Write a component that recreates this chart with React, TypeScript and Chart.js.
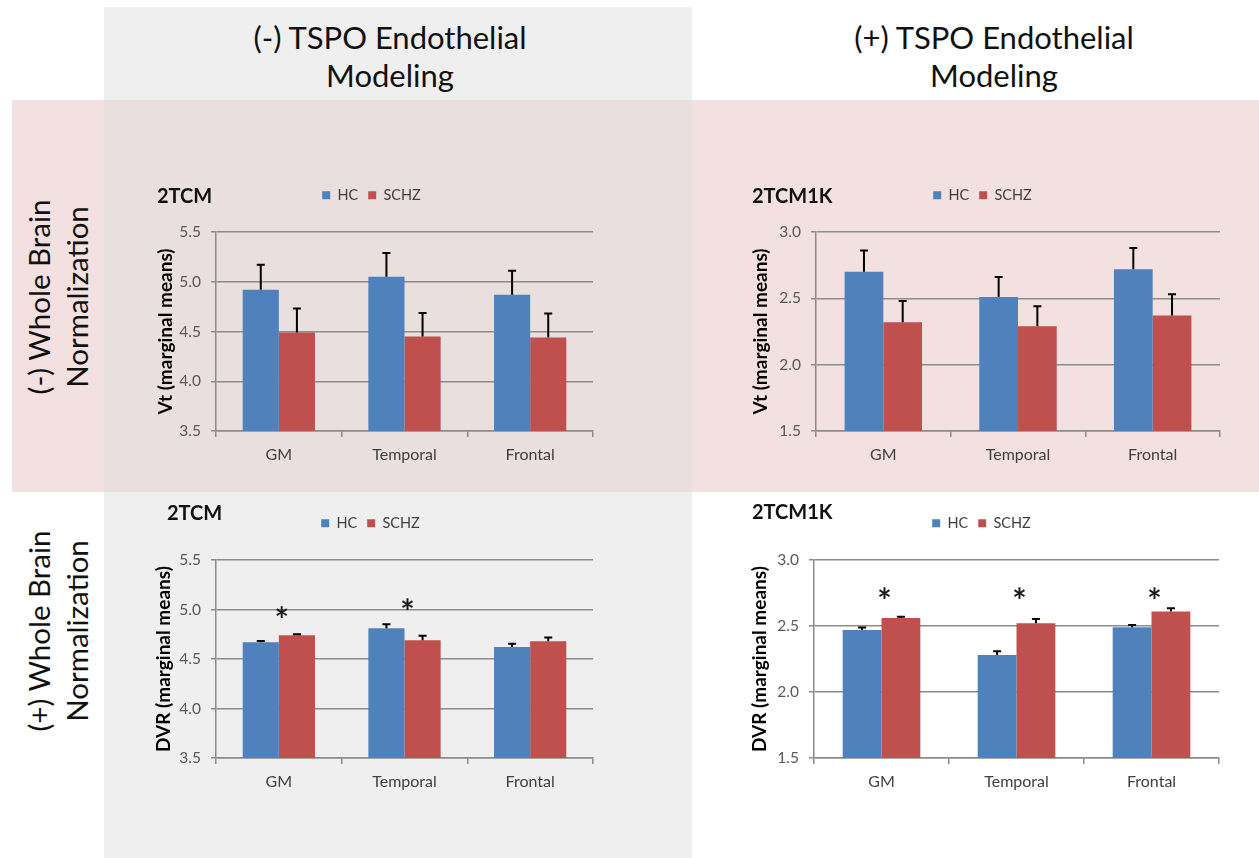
import React, { useEffect, useRef } from 'react';
import { Chart, registerables } from 'chart.js';

Chart.register(...registerables);

const FONT = 'Lato, "Open Sans", "DejaVu Sans", sans-serif';
Chart.defaults.font.family = FONT;

// ---------- data ----------
const categories = ['GM', 'Temporal', 'Frontal'];
const seriesNames = ['HC', 'SCHZ'];

// (-) TSPO endothelial, (-) whole brain normalization — 2TCM, Vt
const vt2tcmHC = [4.92, 5.05, 4.87];
const vt2tcmHCErr = [0.25, 0.24, 0.24];
const vt2tcmSCHZ = [4.49, 4.45, 4.44];
const vt2tcmSCHZErr = [0.24, 0.235, 0.24];
const vt2tcmRange = [3.5, 5.5];

// (+) TSPO endothelial, (-) whole brain normalization — 2TCM1K, Vt
const vt2tcm1kHC = [2.7, 2.51, 2.72];
const vt2tcm1kHCErr = [0.16, 0.15, 0.16];
const vt2tcm1kSCHZ = [2.32, 2.29, 2.37];
const vt2tcm1kSCHZErr = [0.16, 0.15, 0.16];
const vt2tcm1kRange = [1.5, 3.0];

// (-) TSPO endothelial, (+) whole brain normalization — 2TCM, DVR
const dvr2tcmHC = [4.67, 4.81, 4.62];
const dvr2tcmHCErr = [0.013, 0.04, 0.034];
const dvr2tcmSCHZ = [4.74, 4.69, 4.68];
const dvr2tcmSCHZErr = [0.01, 0.044, 0.037];
const dvr2tcmStars = [4.97, 5.06, null];
const dvr2tcmRange = [3.5, 5.5];

// (+) TSPO endothelial, (+) whole brain normalization — 2TCM1K, DVR
const dvr2tcm1kHC = [2.47, 2.28, 2.49];
const dvr2tcm1kHCErr = [0.018, 0.028, 0.018];
const dvr2tcm1kSCHZ = [2.56, 2.52, 2.61];
const dvr2tcm1kSCHZErr = [0.01, 0.033, 0.025];
const dvr2tcm1kStars = [2.75, 2.75, 2.75];
const dvr2tcm1kRange = [1.5, 3.0];

const tickStep = 0.5;

// ---------- styles ----------
const HC_COLOR = '#4f81bd';
const SCHZ_COLOR = '#c0504d';
const GRID = '#8c8c8c';

const errorBarPlugin = {
  id: 'errorBars',
  afterDatasetsDraw(chart: any) {
    const ctx = chart.ctx;
    const y = chart.scales.y;
    chart.data.datasets.forEach((ds: any, i: number) => {
      const meta = chart.getDatasetMeta(i);
      meta.data.forEach((bar: any, j: number) => {
        const v = ds.data[j];
        const e = ds.errors ? ds.errors[j] : 0;
        const top = y.getPixelForValue(v + e);
        ctx.save();
        ctx.strokeStyle = '#000';
        ctx.lineWidth = 2;
        ctx.beginPath();
        ctx.moveTo(bar.x, bar.y);
        ctx.lineTo(bar.x, top);
        ctx.moveTo(bar.x - 4, top);
        ctx.lineTo(bar.x + 4, top);
        ctx.stroke();
        ctx.restore();
      });
    });
  },
};

const starPlugin = {
  id: 'stars',
  afterDatasetsDraw(chart: any, _args: any, opts: any) {
    const vals = opts && opts.values;
    if (!vals) return;
    const ctx = chart.ctx;
    const x = chart.scales.x;
    const y = chart.scales.y;
    ctx.save();
    ctx.fillStyle = '#1a1a1a';
    ctx.font = `bold 34px ${FONT}`;
    ctx.textAlign = 'center';
    ctx.textBaseline = 'alphabetic';
    const m = ctx.measureText('*');
    const off = (m.actualBoundingBoxAscent - m.actualBoundingBoxDescent) / 2;
    vals.forEach((v: number | null, i: number) => {
      if (v === null || v === undefined) return;
      ctx.fillText('*', x.getPixelForValue(i) + 3, y.getPixelForValue(v) + off);
    });
    ctx.restore();
  },
};

type Rect = { left: number; top: number; width: number; height: number };
type Plot = { left: number; top: number; right: number; bottom: number };

function Panel(props: {
  canvas: Rect;
  plot: Plot;
  title: string;
  titlePos: { left: number; cy: number };
  yTitle: string;
  range: number[];
  hc: number[];
  hcErr: number[];
  schz: number[];
  schzErr: number[];
  stars?: (number | null)[];
}) {
  const ref = useRef<HTMLCanvasElement>(null);
  const { canvas, plot } = props;
  useEffect(() => {
    if (!ref.current) return;
    const legendH = plot.top - canvas.top;
    const yW = plot.left - canvas.left;
    const xH = canvas.top + canvas.height - plot.bottom;
    const padRight = canvas.left + canvas.width - plot.right;
    const fixLegend = {
      id: 'fixLegend',
      beforeLayout(chart: any) {
        const lg = chart.legend;
        if (lg && !lg.__patched) {
          const orig = lg.fit.bind(lg);
          lg.fit = function () {
            orig();
            this.height = legendH;
          };
          lg.__patched = true;
        }
      },
    };
    const chart = new Chart(ref.current, {
      type: 'bar',
      data: {
        labels: categories,
        datasets: [
          {
            label: seriesNames[0],
            data: props.hc,
            errors: props.hcErr,
            backgroundColor: HC_COLOR,
            borderWidth: 0,
            barPercentage: 1,
            categoryPercentage: 0.575,
          } as any,
          {
            label: seriesNames[1],
            data: props.schz,
            errors: props.schzErr,
            backgroundColor: SCHZ_COLOR,
            borderWidth: 0,
            barPercentage: 1,
            categoryPercentage: 0.575,
          } as any,
        ],
      },
      options: {
        animation: false,
        responsive: false,
        maintainAspectRatio: false,
        events: [],
        layout: { padding: { left: 0, right: padRight, top: 0, bottom: 0 } },
        plugins: {
          legend: {
            display: true,
            position: 'top',
            labels: {
              boxWidth: 8,
              boxHeight: 8,
              padding: 10,
              color: '#404040',
              font: { size: 14.5 },
            },
          },
          tooltip: { enabled: false },
          stars: { values: props.stars },
        } as any,
        scales: {
          x: {
            grid: {
              offset: true,
              drawOnChartArea: false,
              drawTicks: true,
              tickLength: 6,
              color: GRID,
              lineWidth: 1.5,
            },
            border: { color: GRID, width: 1.5 },
            ticks: { color: '#404040', font: { size: 16 }, padding: 8 },
            afterFit: (s: any) => {
              s.height = xH;
            },
          },
          y: {
            min: props.range[0],
            max: props.range[1],
            ticks: {
              stepSize: tickStep,
              callback: (v: any) => Number(v).toFixed(1),
              color: '#595959',
              font: { size: 15.5 },
              padding: 10,
            },
            grid: { color: GRID, lineWidth: 1.5, tickLength: 5 },
            border: { color: GRID, width: 1.5 },
            title: {
              display: true,
              text: props.yTitle,
              color: '#000',
              font: { size: 19, weight: 'bold' },
              padding: { top: 4, bottom: 0 },
            },
            afterFit: (s: any) => {
              s.width = yW;
            },
          },
        },
      } as any,
      plugins: [fixLegend, errorBarPlugin, starPlugin],
    });
    return () => chart.destroy();
  }, []);
  return (
    <>
      <canvas
        ref={ref}
        width={canvas.width}
        height={canvas.height}
        style={{
          position: 'absolute',
          left: canvas.left,
          top: canvas.top,
          width: canvas.width,
          height: canvas.height,
        }}
      />
      <div
        style={{
          position: 'absolute',
          left: props.titlePos.left,
          top: props.titlePos.cy - 14,
          height: 28,
          lineHeight: '28px',
          fontSize: 20,
          fontWeight: 'bold',
          color: '#111',
          whiteSpace: 'nowrap',
        }}
      >
        {props.title}
      </div>
    </>
  );
}

function Header(props: { cx: number; lines: string[] }) {
  return (
    <div
      style={{
        position: 'absolute',
        left: props.cx - 300,
        top: 18,
        width: 600,
        textAlign: 'center',
        fontSize: 31,
        lineHeight: '38px',
        color: '#111',
      }}
    >
      {props.lines.map((l, i) => (
        <div key={i}>{l}</div>
      ))}
    </div>
  );
}

function SideLabel(props: { cx: number; cy: number; lines: string[] }) {
  return (
    <div
      style={{
        position: 'absolute',
        left: props.cx - 200,
        top: props.cy - 38,
        width: 400,
        height: 76,
        textAlign: 'center',
        fontSize: 29.5,
        lineHeight: '38px',
        color: '#111',
        transform: 'rotate(-90deg)',
        transformOrigin: '50% 50%',
      }}
    >
      {props.lines.map((l, i) => (
        <div key={i}>{l}</div>
      ))}
    </div>
  );
}

export default function App() {
  return (
    <div
      style={{
        position: 'absolute',
        left: 0,
        top: 0,
        width: 1259,
        height: 858,
        overflow: 'hidden',
        background: '#ffffff',
        fontFamily: FONT,
      }}
    >
      <div style={{ position: 'absolute', left: 104, top: 7, width: 588, height: 851, background: '#efefef' }} />
      <div style={{ position: 'absolute', left: 12, top: 100, width: 1247, height: 392, background: '#f3e0e1' }} />
      <div style={{ position: 'absolute', left: 104, top: 100, width: 588, height: 392, background: '#e9dfdf' }} />

      <Header cx={390} lines={['(-) TSPO Endothelial', 'Modeling']} />
      <Header cx={994} lines={['(+) TSPO Endothelial', 'Modeling']} />
      <SideLabel cx={58} cy={297} lines={['(-) Whole Brain', 'Normalization']} />
      <SideLabel cx={58} cy={631} lines={['(+) Whole Brain', 'Normalization']} />

      <Panel
        canvas={{ left: 150, top: 178, width: 450, height: 293 }}
        plot={{ left: 216, top: 232, right: 593, bottom: 431 }}
        title="2TCM"
        titlePos={{ left: 157, cy: 195 }}
        yTitle="Vt (marginal means)"
        range={vt2tcmRange}
        hc={vt2tcmHC}
        hcErr={vt2tcmHCErr}
        schz={vt2tcmSCHZ}
        schzErr={vt2tcmSCHZErr}
      />
      <Panel
        canvas={{ left: 745, top: 178, width: 480, height: 293 }}
        plot={{ left: 816, top: 232, right: 1220, bottom: 431 }}
        title="2TCM1K"
        titlePos={{ left: 752, cy: 195 }}
        yTitle="Vt (marginal means)"
        range={vt2tcm1kRange}
        hc={vt2tcm1kHC}
        hcErr={vt2tcm1kHCErr}
        schz={vt2tcm1kSCHZ}
        schzErr={vt2tcm1kSCHZErr}
      />
      <Panel
        canvas={{ left: 148, top: 506, width: 452, height: 292 }}
        plot={{ left: 216, top: 560, right: 593, bottom: 758 }}
        title="2TCM"
        titlePos={{ left: 167, cy: 512 }}
        yTitle="DVR (marginal means)"
        range={dvr2tcmRange}
        hc={dvr2tcmHC}
        hcErr={dvr2tcmHCErr}
        schz={dvr2tcmSCHZ}
        schzErr={dvr2tcmSCHZErr}
        stars={dvr2tcmStars}
      />
      <Panel
        canvas={{ left: 744, top: 506, width: 481, height: 292 }}
        plot={{ left: 814, top: 560, right: 1219, bottom: 758 }}
        title="2TCM1K"
        titlePos={{ left: 752, cy: 511 }}
        yTitle="DVR (marginal means)"
        range={dvr2tcm1kRange}
        hc={dvr2tcm1kHC}
        hcErr={dvr2tcm1kHCErr}
        schz={dvr2tcm1kSCHZ}
        schzErr={dvr2tcm1kSCHZErr}
        stars={dvr2tcm1kStars}
      />
    </div>
  );
}
